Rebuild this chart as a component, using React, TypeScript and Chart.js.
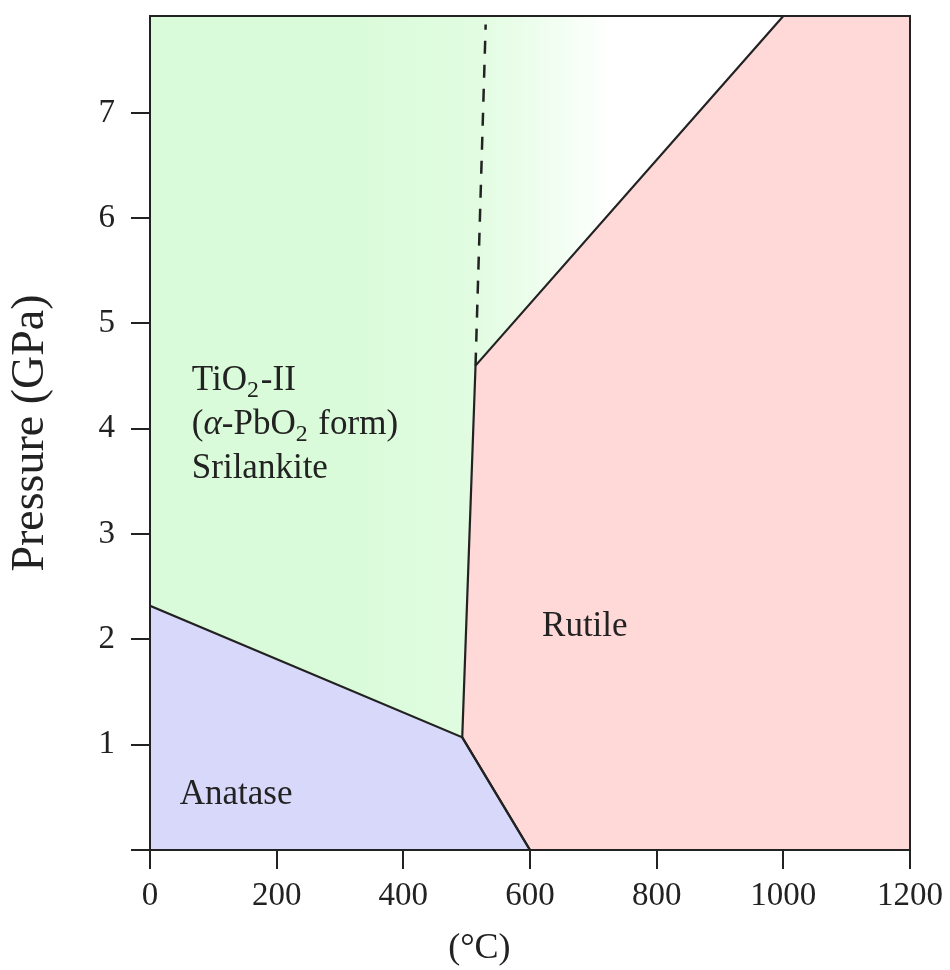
import React, { useEffect, useRef } from 'react';
import { Chart, registerables } from 'chart.js';

Chart.register(...registerables);

const FONT = '"Liberation Serif", "Times New Roman", serif';
const INK = '#222';

// Axis ranges and ticks
const X_MIN = 0;
const X_MAX = 1200;
const Y_MIN = 0;
const Y_MAX = 7.92;
const xTicks = [0, 200, 400, 600, 800, 1000, 1200];
const yTicks = [0, 1, 2, 3, 4, 5, 6, 7];

// Phase boundaries: temperature (°C) and pressure (GPa)
const anataseBoundaryT = [600, 493, 0];
const anataseBoundaryP = [0, 1.07, 2.32];
const rutileBoundaryT = [600, 493, 514, 1000];
const rutileBoundaryP = [0, 1.07, 4.6, 7.92];
const srilankiteBoundaryT = [0, 493, 514, 1000];
const srilankiteBoundaryP = [2.32, 1.07, 4.6, 7.92];
const dashedBoundaryT = [514, 530];
const dashedBoundaryP = [4.6, 7.84];

// Region label texts (parts allow subscripts / italics)
type Part = { t: string; sub?: boolean; italic?: boolean };
const srilankiteLines: Part[][] = [
  [{ t: 'TiO' }, { t: '2', sub: true }, { t: '-II' }],
  [{ t: '(' }, { t: 'α', italic: true }, { t: '-PbO' }, { t: '2', sub: true }, { t: ' form)' }],
  [{ t: 'Srilankite' }],
];
const rutileLines: Part[][] = [[{ t: 'Rutile' }]];
const anataseLines: Part[][] = [[{ t: 'Anatase' }]];
const xTitle = '(°C)';
const yTitle = 'Pressure (GPa)';

// label anchors in data coordinates (T, P)
const srilankiteAnchor = [66, 4.37];
const rutileAnchor = [619, 2.03];
const anataseAnchor = [47, 0.44];
const xTitleAnchorT = 520;

const pts = (xs: number[], ys: number[]) => xs.map((x, i) => ({ x, y: ys[i] }));

function drawRich(ctx: CanvasRenderingContext2D, x: number, y: number, parts: Part[], size: number) {
  let cx = x;
  for (const p of parts) {
    const s = p.sub ? size * 0.68 : size;
    ctx.font = `${p.italic ? 'italic ' : ''}${s}px ${FONT}`;
    ctx.fillText(p.t, cx, y + (p.sub ? size * 0.2 : 0));
    cx += ctx.measureText(p.t).width + (p.sub ? 2 : 0);
  }
}

const labelsPlugin = {
  id: 'phaseLabels',
  afterDatasetsDraw(chart: any) {
    const { ctx, scales, chartArea: a } = chart;
    const xs = scales.x;
    const ys = scales.y;
    ctx.save();
    ctx.fillStyle = INK;
    ctx.textAlign = 'left';
    ctx.textBaseline = 'alphabetic';
    const groups: [number[], Part[][]][] = [
      [srilankiteAnchor, srilankiteLines],
      [rutileAnchor, rutileLines],
      [anataseAnchor, anataseLines],
    ];
    for (const [anchor, lines] of groups) {
      const px = xs.getPixelForValue(anchor[0]);
      const py = ys.getPixelForValue(anchor[1]);
      lines.forEach((parts, i) => drawRich(ctx, px, py + i * 44, parts, 35));
    }
    // frame
    ctx.strokeStyle = INK;
    ctx.lineWidth = 2;
    ctx.strokeRect(a.left, a.top, a.right - a.left, a.bottom - a.top);
    // x-axis title
    ctx.font = `36px ${FONT}`;
    ctx.textAlign = 'center';
    ctx.textBaseline = 'middle';
    ctx.fillText(xTitle, xs.getPixelForValue(xTitleAnchorT), 949);
    ctx.restore();
  },
};

const greenFill = (c: any) => {
  const chart = c.chart;
  const xs = chart.scales && chart.scales.x;
  if (!xs || !chart.chartArea) return 'rgb(217,251,217)';
  const g = chart.ctx.createLinearGradient(xs.getPixelForValue(300), 0, xs.getPixelForValue(730), 0);
  g.addColorStop(0, 'rgb(217,251,217)');
  g.addColorStop(0.5, 'rgb(225,252,225)');
  g.addColorStop(0.8, 'rgb(242,254,242)');
  g.addColorStop(1, 'rgb(255,255,255)');
  return g;
};

export default function App() {
  const ref = useRef<HTMLCanvasElement>(null);
  useEffect(() => {
    const tickFont = { family: FONT, size: 33 };
    const grid = { display: true, drawOnChartArea: false, drawTicks: true, tickLength: 19, color: INK, lineWidth: 2 };
    const border = { display: true, color: INK, width: 2 };
    const chart = new Chart(ref.current as HTMLCanvasElement, {
      type: 'line',
      data: {
        datasets: [
          {
            label: 'Srilankite',
            data: pts(srilankiteBoundaryT, srilankiteBoundaryP),
            indexAxis: 'x',
            fill: { value: Y_MAX },
            backgroundColor: greenFill,
            borderWidth: 0,
            borderColor: 'rgba(0,0,0,0)',
            pointRadius: 0,
          },
          {
            label: 'Anatase',
            data: pts(anataseBoundaryT, anataseBoundaryP),
            indexAxis: 'y',
            fill: { value: X_MIN },
            backgroundColor: 'rgb(216,216,250)',
            borderColor: INK,
            borderWidth: 2.2,
            pointRadius: 0,
          },
          {
            label: 'Rutile',
            data: pts(rutileBoundaryT, rutileBoundaryP),
            indexAxis: 'y',
            fill: { value: X_MAX },
            backgroundColor: 'rgb(255,216,216)',
            borderColor: INK,
            borderWidth: 2.2,
            pointRadius: 0,
          },
          {
            label: 'metastable',
            data: pts(dashedBoundaryT, dashedBoundaryP),
            indexAxis: 'y',
            fill: false,
            borderColor: INK,
            borderWidth: 2.5,
            borderDash: [13, 11],
            pointRadius: 0,
          },
        ] as any,
      },
      options: {
        responsive: false,
        animation: false,
        events: [],
        layout: { padding: { top: 16, right: 40, left: 0, bottom: 0 } },
        plugins: {
          legend: { display: false },
          tooltip: { enabled: false },
          filler: { drawTime: 'beforeDatasetsDraw' },
        },
        scales: {
          x: {
            type: 'linear',
            min: X_MIN,
            max: X_MAX,
            position: 'bottom',
            afterBuildTicks: (s: any) => {
              s.ticks = xTicks.map((v) => ({ value: v }));
            },
            afterFit: (s: any) => {
              s.height = 120;
              s.paddingLeft = 0;
              s.paddingRight = 0;
            },
            ticks: {
              autoSkip: false,
              maxRotation: 0,
              color: INK,
              font: tickFont,
              padding: 8,
              callback: (v: any) => String(v),
            },
            grid,
            border,
          },
          y: {
            type: 'linear',
            min: Y_MIN,
            max: Y_MAX,
            position: 'left',
            afterBuildTicks: (s: any) => {
              s.ticks = yTicks.map((v) => ({ value: v }));
            },
            afterFit: (s: any) => {
              s.width = 150;
              s.paddingTop = 0;
              s.paddingBottom = 0;
            },
            ticks: {
              color: INK,
              font: tickFont,
              padding: 16,
              callback: (v: any) => (v === 0 ? '' : String(v)),
            },
            grid,
            border,
            title: {
              display: true,
              text: yTitle,
              color: INK,
              font: { family: FONT, size: 46 },
              padding: { top: 3, bottom: 0 },
            },
          },
        },
      } as any,
      plugins: [labelsPlugin],
    });
    return () => chart.destroy();
  }, []);
  return (
    <div style={{ position: 'absolute', left: 0, top: 0, width: 950, height: 970, background: '#fff' }}>
      <canvas ref={ref} width={950} height={970} style={{ display: 'block' }} />
    </div>
  );
}
